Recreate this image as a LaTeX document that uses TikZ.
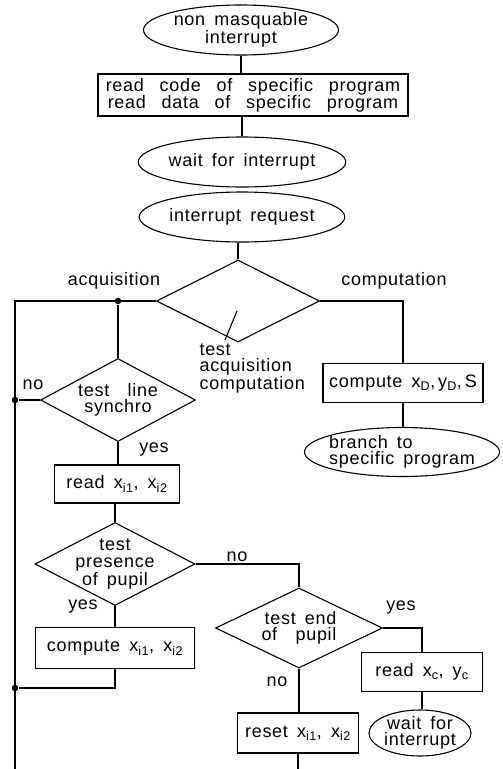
\documentclass[tikz,border=0pt]{standalone}
\usepackage{fontspec}
\setmainfont{Liberation Sans}[LetterSpace=4,WordSpace=1.6]
\newfontfamily\widefont{Liberation Sans}[LetterSpace=4,WordSpace=2.75]
\usetikzlibrary{shapes.geometric}

\begin{document}
\begin{tikzpicture}[x=1pt, y=-1pt, line width=1.1pt,
    every node/.style={font=\fontsize{18}{16.5}\selectfont},
    oval/.style={ellipse, draw, inner xsep=0pt, inner ysep=-2pt, align=center},
    box/.style={rectangle, draw, inner sep=0pt, align=center},
    decision/.style={diamond, draw, aspect=2, inner sep=-4pt, align=center},
    lbl/.style={inner sep=0pt},
    junction/.style={circle, fill, inner sep=0pt, minimum size=6.5pt}]

    \useasboundingbox (0,0) rectangle (503,769);

    % main column
    \node[oval, minimum width=195pt, minimum height=50pt] (nmi) at (241,30) {non masquable\\interrupt};
    \node[box, minimum width=310pt, minimum height=42pt,
        font=\widefont\fontsize{18}{17}\selectfont] (rdcode) at (253,95) {read code of specific program\\read data of specific program};
    \node[oval, minimum width=195pt, minimum height=50pt] (wait) at (242,162) {wait for interrupt};
    \node[oval, minimum width=195pt, minimum height=50pt] (irq) at (242,217) {interrupt request};
    \node[decision, minimum width=163pt, minimum height=82pt] (tac) at (238,301) {};

    % acquisition side
    \node[decision, minimum width=155pt, minimum height=83pt] (tls) at (118,400) {test\ \ line\\synchro};
    \node[box, minimum width=125pt, minimum height=38pt] (rdx) at (117,484) {read x\textsubscript{i1}, x\textsubscript{i2}};
    \node[decision, minimum width=160pt, minimum height=83pt] (tpp) at (115,564) {test\\presence\\of pupil};
    \node[box, minimum width=159pt, minimum height=41pt] (cpx) at (115,648) {compute x\textsubscript{i1}, x\textsubscript{i2}};
    \node[decision, minimum width=167pt, minimum height=80pt, align=right] (tep) at (299,628) {test end\\of\ \ pupil};
    \node[box, minimum width=121pt, minimum height=40pt] (rsx) at (298,733) {reset x\textsubscript{i1}, x\textsubscript{i2}};
    \node[box, minimum width=121pt, minimum height=39pt] (rdc) at (422,672) {read x\textsubscript{c}, y\textsubscript{c}};
    \node[oval, inner xsep=-14pt, minimum width=102pt, minimum height=46pt] (wait2) at (420,733) {wait for\\interrupt};

    % computation side
    \node[box, minimum width=160pt, minimum height=39pt] (cpd) at (403,383) {compute x\textsubscript{D},\,y\textsubscript{D},\,S};
    \node[oval, inner xsep=-10pt, minimum width=195pt, minimum height=49pt, align=left] (br) at (402,452) {branch to\\specific program};

    % labels
    \node[lbl] (acq) at (114,281) {acquisition};
    \node[lbl] (comp) at (394,281) {computation};
    \node[lbl, align=left, anchor=north west] (taclbl) at (199,343) {test\\acquisition\\computation};
    \node[lbl] (no1) at (33,385) {no};
    \node[lbl] (yes1) at (154,450) {yes};
    \node[lbl] (no2) at (237,557) {no};
    \node[lbl] (yes2) at (83,607) {yes};
    \node[lbl] (yes3) at (401,608) {yes};
    \node[lbl] (no3) at (277,682) {no};

    \coordinate (ltop) at (15,301);
    \coordinate (lbot) at (15,769);
    \coordinate (tickA) at (237,311);
    \coordinate (tickB) at (225,340);

    % connectors
    \draw (nmi.south) -- (nmi.south |- rdcode.north);
    \draw (wait.north) -- (wait.north |- rdcode.south);
    \draw (tac.north) -- (tac.north |- irq.south);
    \draw (tac.west) -- (ltop) -- (lbot);
    \draw (tac.east) -| (cpd.north);
    \draw (cpd.south) -- (cpd.south |- br.north);
    \draw (tickA) -- (tickB);
    \node[junction] (j1) at (tls.north |- tac.west) {};
    \draw (j1) -- (tls.north);
    \node[junction] (j2) at (ltop |- tls.west) {};
    \draw (tls.west) -- (j2);
    \draw (tls.south) -- (tls.south |- rdx.north);
    \draw (tpp.north) -- (tpp.north |- rdx.south);
    \draw (tpp.east) -| (tep.north);
    \draw (tpp.south) -- (tpp.south |- cpx.north);
    \node[junction] (j3) at (15,688) {};
    \draw (cpx.south) |- (j3);
    \draw (tep.east) -| (rdc.north);
    \draw (rdc.south) -- (rdc.south |- wait2.north);
    \draw (tep.south) -- (tep.south |- rsx.north);
    \draw (rsx.south) -- (rsx.south |- lbot);

\end{tikzpicture}
\end{document}
